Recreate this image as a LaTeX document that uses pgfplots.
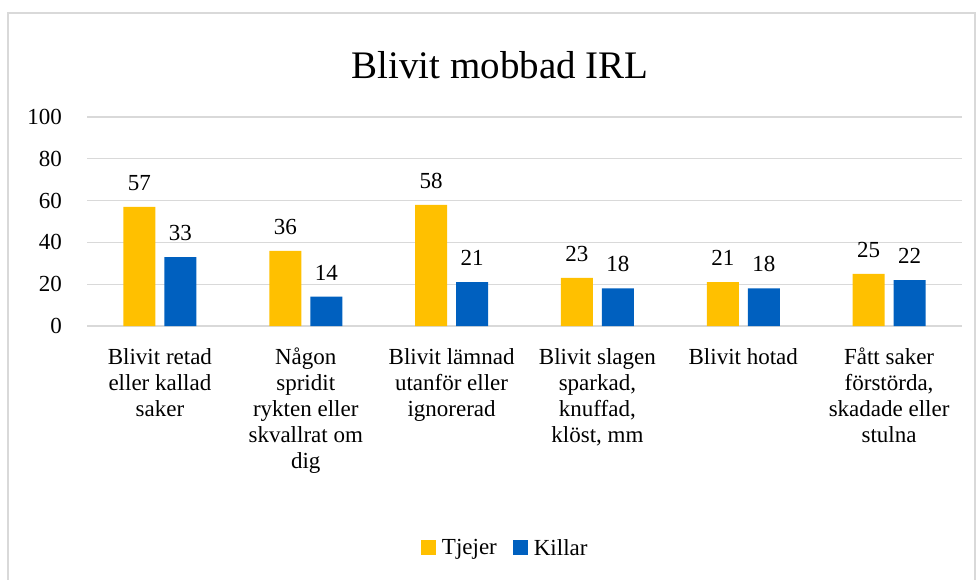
\documentclass[border=0pt]{standalone}
\usepackage{pgfplots}
\pgfplotsset{compat=1.18}
\usepackage{fontspec}
\setmainfont{Liberation Serif}
\definecolor{cy}{HTML}{FFC000}
\definecolor{cb}{HTML}{0060BF}
\definecolor{gridc}{HTML}{D9D9D9}
\begin{document}
\begin{tikzpicture}[x=1pt,y=1pt]
\useasboundingbox (0,0) rectangle (976,579);
\draw[gridc, line width=1.2pt] (8,-5) -- (8,566) -- (975,566) -- (975,-5);
\node[font=\fontsize{39}{44}\selectfont] at (500,514) {Blivit mobbad IRL};
\begin{axis}[
  at={(87pt,253pt)}, anchor=south west, scale only axis,
  width=875pt, height=209pt,
  xmin=-0.5, xmax=5.5, ymin=0, ymax=100,
  ytick={0,20,...,100}, xtick={0,...,5},
  /pgf/number format/assume math mode=true,
  xticklabels={{Blivit retad\\eller kallad\\saker},
               {Någon\\spridit\\rykten eller\\skvallrat om\\dig},
               {Blivit lämnad\\utanför eller\\ignorerad},
               {Blivit slagen\\sparkad,\\knuffad,\\klöst, mm},
               {Blivit hotad},
               {Fått saker\\förstörda,\\skadade eller\\stulna}},
  xticklabel style={align=center, anchor=north, inner sep=0pt, yshift=-22pt, font=\fontsize{23}{26}\selectfont},
  yticklabel style={anchor=east, inner sep=0pt, xshift=-25pt, font=\fontsize{23}{26}\selectfont},
  ymajorgrids, grid style={gridc, line width=1.2pt},
  axis line style={draw=none}, major tick length=0pt,
  ybar=9pt, bar width=32pt,
  nodes near coords,
  nodes near coords style={font=\fontsize{23}{26}\selectfont, anchor=south, inner sep=0pt, yshift=16pt, text=black},
  legend style={at={(0.478,-1.062)}, anchor=center, legend columns=2, draw=none,
    font=\fontsize{23}{26}\selectfont,
    /tikz/every even column/.append style={column sep=14pt}},
  legend image code/.code={\fill[#1] (0pt,-7pt) rectangle (15pt,8pt); \path (19pt,0pt);},
]
\addplot[fill=cy, draw=none] coordinates {(0,57) (1,36) (2,58) (3,23) (4,21) (5,25)};
\addplot[fill=cb, draw=none] coordinates {(0,33) (1,14) (2,21) (3,18) (4,18) (5,22)};
\legend{Tjejer, Killar}
\end{axis}
\end{tikzpicture}
\end{document}
